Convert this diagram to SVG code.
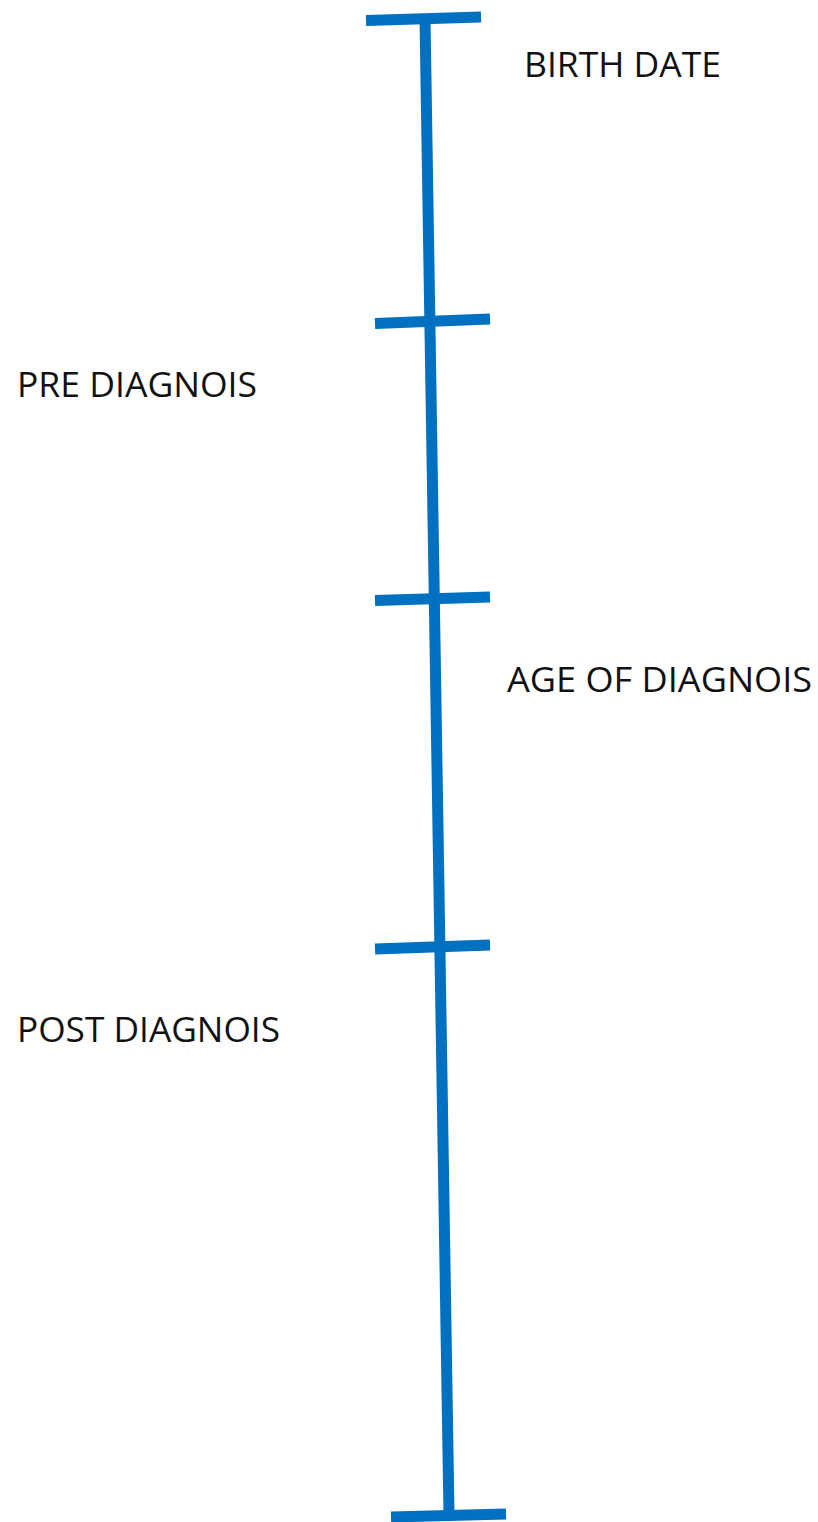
<svg xmlns="http://www.w3.org/2000/svg" width="818" height="1522" viewBox="0 0 818 1522">
<style>
.ln{stroke:#0070C0;stroke-width:11;fill:none;stroke-linecap:butt}
.lb{font-family:"Open Sans","Noto Sans","Liberation Sans",sans-serif;font-size:34px;fill:#111}
</style>
<rect width="818" height="1522" fill="#fff"/>
<g id="connectors">
<line class="ln" x1="425" y1="18" x2="449" y2="1515"/>
</g>
<g id="tick-birth"><line class="ln" x1="366" y1="20.5" x2="481" y2="17"/></g>
<g id="tick-pre"><line class="ln" x1="375" y1="323.5" x2="490" y2="319"/></g>
<g id="tick-age"><line class="ln" x1="375" y1="600.5" x2="490" y2="597"/></g>
<g id="tick-post"><line class="ln" x1="375" y1="949" x2="490" y2="945"/></g>
<g id="tick-end"><line class="ln" x1="391" y1="1517" x2="506" y2="1514"/></g>
<g id="label-birth"><text class="lb" x="524" y="77" textLength="197" lengthAdjust="spacingAndGlyphs">BIRTH DATE</text></g>
<g id="label-pre"><text class="lb" x="17" y="397" textLength="240" lengthAdjust="spacingAndGlyphs">PRE DIAGNOIS</text></g>
<g id="label-age"><text class="lb" x="507" y="692" textLength="305" lengthAdjust="spacingAndGlyphs">AGE OF DIAGNOIS</text></g>
<g id="label-post"><text class="lb" x="17" y="1042" textLength="263" lengthAdjust="spacingAndGlyphs">POST DIAGNOIS</text></g>
</svg>
